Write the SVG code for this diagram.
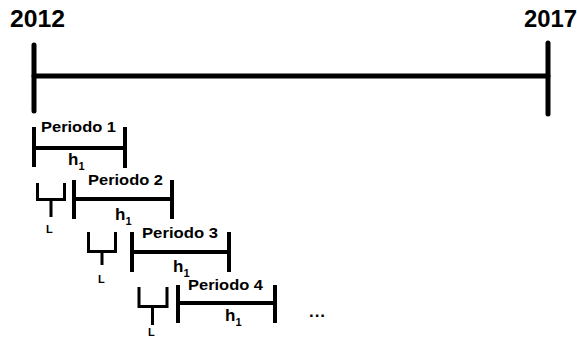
<svg xmlns="http://www.w3.org/2000/svg" width="577" height="338" viewBox="0 0 577 338">
<style>
.t{font-family:"Liberation Sans",Arial,sans-serif;font-weight:bold;fill:#000}
.y{font-size:24px}
.p{font-size:15px}
.h{font-size:17px}
.s{font-size:11px}
.l{font-size:11px}
.d{font-size:17px}
.m{stroke:#000;stroke-width:5;fill:none;stroke-linecap:round}
.b{stroke:#000;stroke-width:4;fill:none}
.c{stroke:#000;stroke-width:3;fill:none}
</style>
<rect width="577" height="338" fill="#fff"/>
<g id="timeline">
<text class="t y" x="10" y="27" textLength="55" lengthAdjust="spacingAndGlyphs">2012</text>
<text class="t y" x="524" y="27" textLength="53" lengthAdjust="spacingAndGlyphs">2017</text>
<line class="m" x1="34" y1="45" x2="34" y2="111"/>
<line class="m" x1="548" y1="43" x2="548" y2="114"/>
<line class="m" x1="34" y1="76" x2="548" y2="76"/>
</g>
<g id="periodo1">
<line class="b" x1="34" y1="127" x2="34" y2="167"/>
<line class="b" x1="125" y1="127" x2="125" y2="168"/>
<line class="b" x1="34" y1="148" x2="125" y2="148"/>
<text class="t p" x="41" y="132" textLength="75" lengthAdjust="spacingAndGlyphs">Periodo 1</text>
<text class="t h" x="68" y="165">h<tspan class="s" dy="5">1</tspan></text>
</g>
<g id="L1">
<path class="c" d="M37.5,183 V199.5 H64.5 V183 M51,199.5 V217"/>
<text class="t l" x="46" y="233">L</text>
</g>
<g id="periodo2">
<line class="b" x1="74" y1="180" x2="74" y2="219"/>
<line class="b" x1="172" y1="180" x2="172" y2="219"/>
<line class="b" x1="74" y1="199" x2="172" y2="199"/>
<text class="t p" x="88" y="185" textLength="75" lengthAdjust="spacingAndGlyphs">Periodo 2</text>
<text class="t h" x="115" y="220">h<tspan class="s" dy="5">1</tspan></text>
</g>
<g id="L2">
<path class="c" d="M88.5,232 V251.5 H115.5 V232 M102,251.5 V265"/>
<text class="t l" x="98" y="283">L</text>
</g>
<g id="periodo3">
<line class="b" x1="132" y1="232" x2="132" y2="272"/>
<line class="b" x1="229" y1="232" x2="229" y2="272"/>
<line class="b" x1="132" y1="252" x2="229" y2="252"/>
<text class="t p" x="142" y="238" textLength="76" lengthAdjust="spacingAndGlyphs">Periodo 3</text>
<text class="t h" x="173" y="272">h<tspan class="s" dy="5">1</tspan></text>
</g>
<g id="L3">
<path class="c" d="M139,287 V306.5 H167 V287 M152.5,306.5 V325"/>
<text class="t l" x="148" y="336">L</text>
</g>
<g id="periodo4">
<line class="b" x1="178" y1="285" x2="178" y2="323"/>
<line class="b" x1="275" y1="285" x2="275" y2="323"/>
<line class="b" x1="178" y1="303" x2="275" y2="303"/>
<text class="t p" x="188" y="290" textLength="75" lengthAdjust="spacingAndGlyphs">Periodo 4</text>
<text class="t h" x="225" y="321">h<tspan class="s" dy="5">1</tspan></text>
</g>
<g id="dots">
<text class="t d" x="309" y="317" textLength="16" lengthAdjust="spacing">...</text>
</g>
</svg>
